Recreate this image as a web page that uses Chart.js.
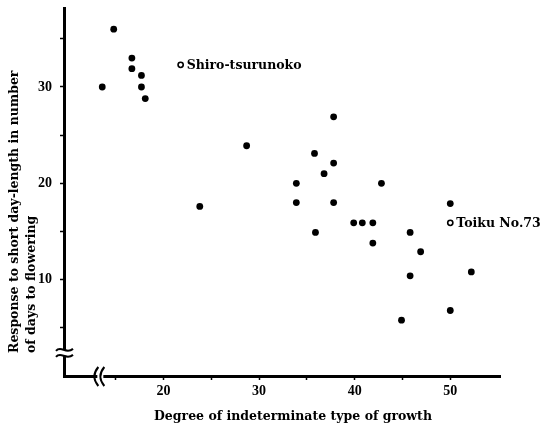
<!DOCTYPE html>
<html>
<head>
<meta charset="utf-8">
<script src="https://cdn.jsdelivr.net/npm/chart.js@4.4.1/dist/chart.umd.min.js"></script>
<style>
  html, body { margin: 0; padding: 0; background: #fff; }
  #wrap { width: 543px; height: 429px; position: relative; }
</style>
</head>
<body>
<div id="wrap"><canvas id="c"></canvas></div>
<script>
// ---- data ----
const growthDegree = [13.6, 14.8, 16.7, 16.7, 17.7, 17.7, 18.1, 23.8, 28.7, 33.9, 33.9, 35.8, 35.9, 36.8, 37.8, 37.8, 37.8, 39.9, 40.8, 41.9, 41.9, 42.8, 44.9, 45.8, 45.8, 46.9, 50.0, 50.0, 52.2];
const shortDayResponse = [30.0, 36.0, 33.0, 31.9, 31.2, 30.0, 28.8, 17.6, 23.9, 20.0, 18.0, 23.1, 14.9, 21.0, 26.9, 22.1, 18.0, 15.9, 15.9, 15.9, 13.8, 20.0, 5.8, 14.9, 10.4, 12.9, 17.9, 6.8, 10.8];
const namedVarieties = ['Shiro-tsurunoko', 'Toiku No.73'];
const namedGrowth = [21.8, 50.0];
const namedResponse = [32.3, 15.9];
const xTickValues = [15, 20, 25, 30, 35, 40, 45, 50];
const xTickLabels = ['', '20', '', '30', '', '40', '', '50'];
const yTickValues = [5, 10, 15, 20, 25, 30, 35];
const yTickLabels = ['', '10', '', '20', '', '30', ''];
const xTitle = 'Degree of indeterminate type of growth';
const yTitle = ['Response to short day-length in number', 'of days to flowering'];

const FONT = '"Liberation Serif", "DejaVu Serif", serif';
const TFONT = '"DejaVu Serif", "Liberation Serif", serif';

const annotate = {
  id: 'annotate',
  afterDraw(chart) {
    const { ctx, scales: { x, y } } = chart;
    ctx.save();
    ctx.fillStyle = '#000';
    ctx.strokeStyle = '#000';
    // variety labels
    ctx.font = 'bold 12.5px ' + TFONT;
    ctx.textBaseline = 'middle';
    ctx.textAlign = 'left';
    namedVarieties.forEach((name, i) => {
      ctx.fillText(name, x.getPixelForValue(namedGrowth[i]) + 6, y.getPixelForValue(namedResponse[i]) + 1);
    });
    // x title
    ctx.font = 'bold 12.5px ' + TFONT;
    ctx.textAlign = 'center';
    ctx.fillText(xTitle, 293, 417);
    // y title (rotated, start aligned)
    ctx.save();
    ctx.translate(15, 353);
    ctx.rotate(-Math.PI / 2);
    ctx.textAlign = 'left';
    ctx.fillText(yTitle[0], 0, 0);
    ctx.fillText(yTitle[1], 0, 17);
    ctx.restore();
    // axis breaks
    const ax = chart.chartArea.left;
    const ay = chart.chartArea.bottom;
    const by = y.getPixelForValue(2.4);
    ctx.fillStyle = '#fff';
    ctx.fillRect(ax - 3, by - 3, 6, 6);
    ctx.lineWidth = 2;
    [by - 3, by + 3].forEach(yy => {
      ctx.beginPath();
      ctx.moveTo(ax - 8, yy + 1);
      ctx.bezierCurveTo(ax - 3, yy - 5, ax + 2, yy + 5, ax + 9, yy - 1);
      ctx.stroke();
    });
    const bx = x.getPixelForValue(13.4);
    ctx.fillRect(bx - 3, ay - 3, 6, 6);
    [bx - 3, bx + 3].forEach(xx => {
      ctx.beginPath();
      ctx.moveTo(xx + 1, ay - 9);
      ctx.bezierCurveTo(xx - 4, ay - 3, xx - 4, ay + 4, xx + 1, ay + 10);
      ctx.stroke();
    });
    ctx.restore();
  }
};

new Chart(document.getElementById('c'), {
  type: 'scatter',
  data: {
    datasets: [
      {
        label: 'Varieties',
        data: growthDegree.map((v, i) => ({ x: v, y: shortDayResponse[i] })),
        pointRadius: 3.4,
        pointBackgroundColor: '#000',
        pointBorderColor: '#000',
        pointBorderWidth: 0
      },
      {
        label: 'Named varieties',
        data: namedGrowth.map((v, i) => ({ x: v, y: namedResponse[i] })),
        pointRadius: 2.6,
        pointBackgroundColor: '#fff',
        pointBorderColor: '#000',
        pointBorderWidth: 1.6
      }
    ]
  },
  options: {
    responsive: true,
    maintainAspectRatio: false,
    animation: false,
    layout: { padding: { top: 8, right: 43, left: 0, bottom: 0 } },
    plugins: { legend: { display: false }, tooltip: { enabled: false } },
    scales: {
      x: {
        type: 'linear',
        min: 9.6,
        max: 55.2,
        afterFit(s) { s.height = 53; s.paddingLeft = 0; s.paddingRight = 0; },
        afterBuildTicks(s) { s.ticks = xTickValues.map(v => ({ value: v })); },
        ticks: {
          autoSkip: false,
          maxRotation: 0,
          padding: 3,
          color: '#000',
          font: { family: FONT, size: 14, weight: 'bold' },
          callback(v) { const i = xTickValues.indexOf(v); return i >= 0 ? xTickLabels[i] : ''; }
        },
        grid: { drawOnChartArea: false, drawTicks: true, tickLength: 4, tickWidth: 1.5, tickColor: '#000' },
        border: { display: true, color: '#000', width: 3 }
      },
      y: {
        type: 'linear',
        min: 0,
        max: 38.2,
        afterFit(s) { s.width = 64; s.paddingTop = 0; s.paddingBottom = 0; },
        afterBuildTicks(s) { s.ticks = yTickValues.map(v => ({ value: v })); },
        ticks: {
          autoSkip: false,
          padding: 8,
          color: '#000',
          font: { family: FONT, size: 14, weight: 'bold' },
          callback(v) { const i = yTickValues.indexOf(v); return i >= 0 ? yTickLabels[i] : ''; }
        },
        grid: { drawOnChartArea: false, drawTicks: true, tickLength: 4, tickWidth: 1.5, tickColor: '#000' },
        border: { display: true, color: '#000', width: 3 }
      }
    }
  },
  plugins: [annotate]
});
</script>
</body>
</html>
